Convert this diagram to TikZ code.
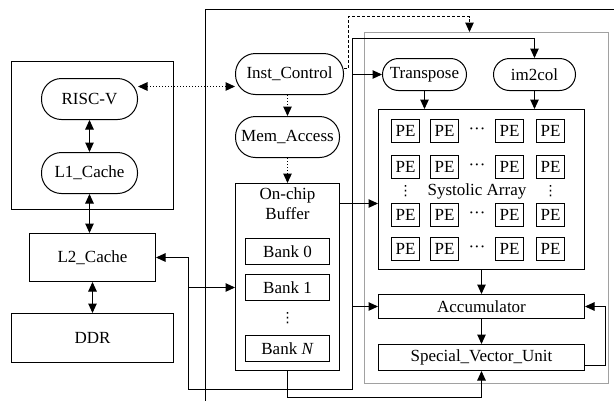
\documentclass[tikz,border=0pt]{standalone}
\usepackage{fontspec}
\setmainfont{Liberation Serif}
\newfontfamily\dotsfont{DejaVu Sans}
\usetikzlibrary{arrows.meta}
\tikzset{
  base/.style={draw, line width=1pt, inner sep=0pt, align=center,
    font=\fontsize{17}{19}\selectfont},
  box/.style={base, rectangle},
  pill/.style={base, rectangle, rounded corners=#1},
  pe/.style={box, minimum width=28pt, minimum height=23pt},
  txt/.style={inner sep=0pt, font=\fontsize{17}{19}\selectfont},
  vdotsnode/.style={inner sep=0pt, font=\dotsfont\fontsize{14}{14}\selectfont},
  conn/.style={line width=1pt},
  tip/.tip={Triangle[length=9.5pt,width=8.5pt]},
  arr/.style={conn, -tip},
  darr/.style={conn, tip-tip},
}
% three middle dots in a row
\newcommand{\hdotsrow}{\textperiodcentered\textperiodcentered\textperiodcentered}
\begin{document}
\begin{tikzpicture}[x=1pt, y=-1pt]
\useasboundingbox (0,0) rectangle (614,400);

% accelerator frame (runs past the page edge) and the compute region
\draw[line width=1pt] (205.5,402) -- (205.5,9.5) -- (616,9.5);
\node[draw=black!37, line width=1pt, inner sep=0pt, minimum width=244pt, minimum height=351pt] (core) at (486.5,208) {};

% host side
\node[box, minimum width=162pt, minimum height=148pt] (cpu) at (92.5,135.5) {};
\node[pill=20pt, minimum width=96pt, minimum height=41pt] (riscv) at (89.5,99) {RISC-V};
\node[pill=20pt, minimum width=96pt, minimum height=41pt] (l1) at (89.5,173) {L1\_Cache};
\node[box, minimum width=126pt, minimum height=48pt] (l2) at (92.5,257.5) {L2\_Cache};
\node[box, minimum width=162pt, minimum height=49pt] (ddr) at (92.5,338) {DDR};

% control and memory path
\node[pill=20pt, minimum width=108pt, minimum height=41pt] (inst) at (289.5,74) {Inst\_Control};
\node[pill=20pt, minimum width=104pt, minimum height=41pt] (mem) at (287.5,137) {Mem\_Access};
\node[box, minimum width=104pt, minimum height=187pt] (buf) at (287.5,277) {};
\node[anchor=north, font=\fontsize{17}{20}\selectfont, align=center, inner sep=0pt] (buftitle) at (287.5,187) {On-chip\\Buffer};
\node[box, minimum width=84pt, minimum height=26pt] (bank0) at (287.5,251.5) {Bank 0};
\node[box, minimum width=84pt, minimum height=26pt] (bank1) at (287.5,287.5) {Bank 1};
\node[vdotsnode] (bdots) at (287.5,318) {⋮};
\node[box, minimum width=84pt, minimum height=26pt] (bankN) at (287.5,348.5) {Bank \textit{N}};

% compute units
\node[pill=16pt, minimum width=84pt, minimum height=32pt] (trans) at (424.5,74.5) {Transpose};
\node[pill=16pt, minimum width=82pt, minimum height=32pt] (im2col) at (534.5,74.5) {im2col};
\node[box, minimum width=206pt, minimum height=160pt] (sa) at (481.5,189.5) {};
\foreach \r/\y in {1/131, 2/167, 3/215, 4/249} {
  \foreach \c/\x in {1/405.5, 2/444.5, 3/509.5, 4/550.5} {
    \node[pe] (pe\r\c) at (\x,\y) {PE};
  }
  \node[txt] (hdots\r) at (477,\y) {\hdotsrow};
}
\node[vdotsnode] (vdl) at (405.5,191) {⋮};
\node[vdotsnode] (vdr) at (550.5,191) {⋮};
\node[txt] (satitle) at (477,191) {Systolic Array};
\node[box, minimum width=206pt, minimum height=24pt] (acc) at (481.5,306.5) {Accumulator};
\node[box, minimum width=206pt, minimum height=26pt] (svu) at (481.5,357.5) {Special\_Vector\_Unit};

% host connections
\draw[darr] (riscv.south) -- (l1.north);
\draw[darr] (l1.south) -- (l1.south |- l2.north);
\draw[darr] (l2.south) -- (ddr.north);
\draw[darr, dotted, line width=1.2pt]
  ([yshift=12.5pt]riscv.east) -- ([yshift=12.5pt]riscv.east -| inst.west);

% control flow
\draw[arr, dotted, line width=1.2pt] (inst.south -| mem.north) -- (mem.north);
\draw[arr, dotted, line width=1.2pt] (mem.south) -- (mem.south |- buf.north);
\coordinate (dashtop) at (469.5,16.5);
\draw[arr, dash pattern=on 3pt off 2pt] ([yshift=5.5pt]inst.east) -- ++(4,0) |- (dashtop) -- (dashtop |- core.north);

% data bus
\coordinate (bustop) at (352.5,38.5);
\coordinate (busbot) at (352.5,389.5);
\coordinate (busleft) at (188.5,389.5);
\draw[arr] (busbot) -- (bustop) -| (im2col.north);
\draw[arr] (bustop |- trans.west) -- (trans.west);
\draw[arr] (bustop |- acc.west) -- (acc.west);
\draw[arr] (busbot) -- (busleft) |- (l2.east);
\draw[arr] (busleft |- bank1) -- (buf.west |- bank1);
\draw[arr] (buf.east |- 0,203.5) -- (sa.west |- 0,203.5);
\draw[arr] (buf.south) -- ++(0,26) -| (svu.south);

% compute flow
\draw[arr] (trans.south) -- (trans.south |- sa.north);
\draw[arr] (im2col.south) -- (im2col.south |- sa.north);
\draw[arr] (sa.south) -- (acc.north);
\draw[arr] (acc.south) -- (svu.north);
\draw[arr] ([yshift=-8pt]svu.east) -- ++(20,0) |- (acc.east);
\end{tikzpicture}
\end{document}
